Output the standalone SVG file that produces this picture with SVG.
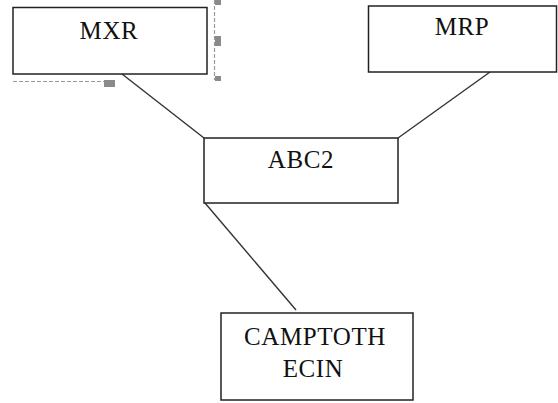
<svg xmlns="http://www.w3.org/2000/svg" width="558" height="403" viewBox="0 0 558 403">
<style>
.box{fill:#fff;stroke:#222;stroke-width:1.5}
.lbl{font-family:"Liberation Serif","Times New Roman",serif;font-size:25px;fill:#111;text-anchor:middle;letter-spacing:0.6px}
.conn{stroke:#333;stroke-width:1.4;fill:none}
.sel{stroke:#999;stroke-width:1.2;stroke-dasharray:4 2;fill:none}
.hdl{fill:#8a8a8a}
</style>
<rect width="558" height="403" fill="#fff"/>
<g id="connectors">
<line class="conn" x1="122" y1="74" x2="204" y2="138"/>
<line class="conn" x1="490" y1="72" x2="398" y2="138"/>
<line class="conn" x1="205" y1="203" x2="296" y2="310"/>
</g>
<g id="selection">
<line class="sel" x1="214.5" y1="0" x2="214.5" y2="80"/>
<line class="sel" x1="13" y1="81.5" x2="104" y2="81.5"/>
<rect class="hdl" x="215" y="0" width="6" height="5"/>
<rect class="hdl" x="215" y="36" width="6" height="10"/>
<rect class="hdl" x="215" y="76" width="6" height="5"/>
<rect class="hdl" x="104" y="80" width="11" height="7"/>
</g>
<g id="MXR">
<rect class="box" x="13" y="7.5" width="194" height="66.5"/>
<text class="lbl" x="109" y="39">MXR</text>
</g>
<g id="MRP">
<rect class="box" x="368.5" y="6" width="188" height="66"/>
<text class="lbl" x="462" y="35">MRP</text>
</g>
<g id="ABC2">
<rect class="box" x="204" y="138" width="194" height="65"/>
<text class="lbl" x="301" y="168">ABC2</text>
</g>
<g id="CAMPTOTHECIN">
<rect class="box" x="221" y="313" width="192" height="87"/>
<text class="lbl" x="315" y="345">CAMPTOTH</text>
<text class="lbl" x="313" y="377">ECIN</text>
</g>
</svg>
